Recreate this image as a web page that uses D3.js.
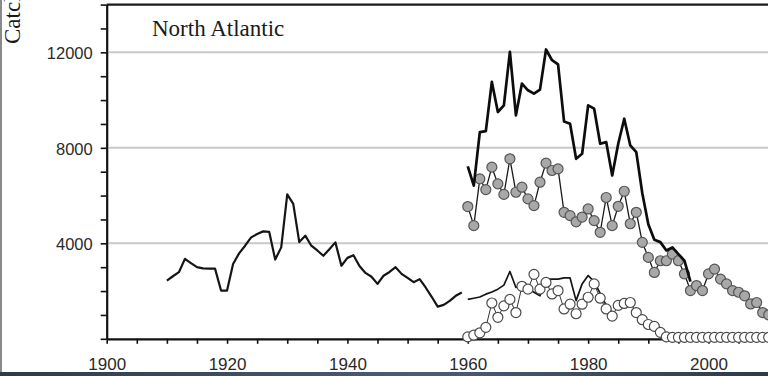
<!DOCTYPE html>
<html>
<head>
<meta charset="utf-8">
<script src="https://cdn.jsdelivr.net/npm/d3@7"></script>
<style>
  body { margin: 0; background: #fff; }
  svg { display: block; }
</style>
</head>
<body>
<svg id="chart" width="768" height="376"></svg>
<script>
// Labels and ticks
const regionLabel = "North Atlantic";
const yTitle = "Catches (t)";
const yMajorTicks = [4000, 8000, 12000];
const xMajorTicks = [1900, 1920, 1940, 1960, 1980, 2000];

// Early catch record, one value per year from 1910
const earlyStart = 1910;
const earlyCatch = [
  2440, 2620, 2790, 3350, 3170, 3000, 2950, 2940, 2940, 2020,
  2020, 3130, 3580, 3900, 4250, 4390, 4500, 4480, 3320, 3830,
  6050, 5650, 4050, 4320, 3900, 3700, 3480, 3750, 4040, 3060,
  3390, 3500, 3050, 2760, 2600, 2300, 2640, 2800, 3000, 2720,
  2550, 2370, 2500, 2150, 1760, 1350, 1420, 1590, 1800, 1940
];

// Modern series, one value per year from 1960
const modernStart = 1960;
const totalCatch = [
  7220, 6420, 8660, 8700, 10760, 9500, 9780, 12020, 9360, 10690,
  10410, 10270, 10440, 12120, 11670, 11500, 9100, 9010, 7540, 7750,
  9780, 9640, 8170, 8240, 6840, 8170, 9220, 8100, 7820, 6100,
  4800, 4150, 4050, 3700, 3830, 3550, 3270, 2400
];
const grayCatch = [
  5540, 4740, 6700, 6250, 7190, 6490, 6050, 7540, 6140, 6350,
  5860, 5580, 6560, 7360, 7050, 7120, 5300, 5160, 4900, 5100,
  5440, 4950, 4460, 5920, 4740, 5550, 6180, 4820, 5300, 4040,
  3410, 2780, 3270, 3270, 3550, 3270, 2720, 2020, 2230, 2020,
  2720, 2920, 2500, 2300, 2020, 1950, 1800, 1460, 1520, 1100,
  1000
];
const openCatch = [
  80, 150, 250, 480, 1500, 900, 1380, 1650, 1100, 2200,
  2080, 2700, 2080, 2360, 1880, 2020, 1250, 1450, 1050, 1450,
  1740, 2300, 1700, 1250, 950, 1400, 1480, 1520, 1100, 800,
  600, 520, 270, 80, 60, 60, 60, 60, 60, 60,
  60, 60, 60, 60, 60, 60, 60, 60, 60, 60,
  60
];
const lowerCatch = [
  1650, 1700, 1750, 1870, 1960, 2080, 2250, 2820, 2150, 2250,
  2100, 1950, 1800, 2500, 2500, 2500, 2550, 2550, 1600, 2300,
  2650, 2400, 1900, 1400, 1100
];

const toPoints = (start, values) => values.map((v, i) => ({ year: start + i, value: v }));

const svg = d3.select("#chart");
const W = 768;

const x = d3.scaleLinear().domain([1900, 2011]).range([106.7, 106.7 + 111 * 6.018]);
const y = d3.scaleLinear().domain([0, 14000]).range([338.8, 4.6]);

// Screen edges
svg.append("rect").attr("x", 0).attr("y", 0).attr("width", W).attr("height", 376).attr("fill", "#fff");

// Gridlines
svg.append("g").selectAll("line").data(yMajorTicks).join("line")
  .attr("x1", x(1900) + 2).attr("x2", W)
  .attr("y1", d => y(d)).attr("y2", d => y(d))
  .attr("stroke", "#c9c9c9").attr("stroke-width", 2);

// Top frame
svg.append("line")
  .attr("x1", x(1900)).attr("x2", W)
  .attr("y1", y(14000)).attr("y2", y(14000))
  .attr("stroke", "#1a1a1a").attr("stroke-width", 2.4);

// Y axis
const yAxis = d3.axisLeft(y)
  .tickValues(d3.range(0, 14001, 1000))
  .tickSize(6).tickSizeOuter(0).tickPadding(8)
  .tickFormat(d => yMajorTicks.includes(d) ? d : "");
const gy = svg.append("g").attr("transform", `translate(${x(1900)},0)`).call(yAxis);
gy.select(".domain").attr("stroke", "#111").attr("stroke-width", 2.2);
gy.selectAll(".tick line").attr("stroke", "#111").attr("stroke-width", 1.6);
gy.selectAll(".tick text")
  .attr("font-family", "'Liberation Sans', Arial, sans-serif")
  .attr("font-size", "16.5px").attr("fill", "#2a2a2a").attr("dy", "0.4em");

// X axis
const xAxis = d3.axisBottom(x)
  .tickValues(d3.range(1900, 2011, 5))
  .tickSize(5).tickSizeOuter(0).tickPadding(0)
  .tickFormat(d => xMajorTicks.includes(d) ? d : "");
const gx = svg.append("g").attr("transform", `translate(0,${y(0)})`).call(xAxis);
gx.select(".domain").attr("stroke", "#111").attr("stroke-width", 2.2);
gx.selectAll(".tick line").attr("stroke", "#111").attr("stroke-width", 1.6);
gx.selectAll(".tick text")
  .attr("font-family", "'Liberation Sans', Arial, sans-serif")
  .attr("font-size", "17px").attr("fill", "#2a2a2a")
  .attr("y", 31.7).attr("dy", 0);

const line = d3.line().x(d => x(d.year)).y(d => y(d.value));

// Early record and its later continuation
svg.append("path").datum(toPoints(earlyStart, earlyCatch))
  .attr("d", line).attr("fill", "none")
  .attr("stroke", "#151515").attr("stroke-width", 2.2).attr("stroke-linejoin", "round");
svg.append("path").datum(toPoints(modernStart, lowerCatch))
  .attr("d", line).attr("fill", "none")
  .attr("stroke", "#151515").attr("stroke-width", 1.7).attr("stroke-linejoin", "round");

// Open-circle series
const openPts = toPoints(modernStart, openCatch);
svg.append("path").datum(openPts)
  .attr("d", line).attr("fill", "none")
  .attr("stroke", "#333").attr("stroke-width", 1);
svg.append("g").selectAll("circle").data(openPts).join("circle")
  .attr("cx", d => x(d.year)).attr("cy", d => y(d.value)).attr("r", 5)
  .attr("fill", "#fff").attr("stroke", "#4a4a4a").attr("stroke-width", 1.2);

// Gray-circle series
const grayPts = toPoints(modernStart, grayCatch);
svg.append("path").datum(grayPts)
  .attr("d", line).attr("fill", "none")
  .attr("stroke", "#1a1a1a").attr("stroke-width", 1.3);
svg.append("g").selectAll("circle").data(grayPts).join("circle")
  .attr("cx", d => x(d.year)).attr("cy", d => y(d.value)).attr("r", 5)
  .attr("fill", "#a8a8a8").attr("stroke", "#555").attr("stroke-width", 1.2);

// Total catch
svg.append("path").datum(toPoints(modernStart, totalCatch))
  .attr("d", line).attr("fill", "none")
  .attr("stroke", "#0d0d0d").attr("stroke-width", 2.7).attr("stroke-linejoin", "round");

// Region label
svg.append("text").attr("x", 152).attr("y", 36)
  .attr("font-family", "'Liberation Serif', 'Times New Roman', serif")
  .attr("font-size", "23px").attr("fill", "#1a1a1a")
  .text(regionLabel);

// Y title
svg.append("text")
  .attr("transform", "translate(20,44) rotate(-90)")
  .attr("font-family", "'Liberation Serif', 'Times New Roman', serif")
  .attr("font-size", "23px").attr("fill", "#1a1a1a")
  .text(yTitle);

// Window edges
svg.append("rect").attr("x", 0).attr("y", 0).attr("width", 2).attr("height", 372).attr("fill", "#8a8a8a");
const grad = svg.append("defs").append("linearGradient").attr("id", "band");
grad.append("stop").attr("offset", "0%").attr("stop-color", "#2c3a4d");
grad.append("stop").attr("offset", "55%").attr("stop-color", "#4a5d78");
grad.append("stop").attr("offset", "100%").attr("stop-color", "#2c3a4d");
svg.append("rect").attr("x", 0).attr("y", 372).attr("width", W).attr("height", 4).attr("fill", "url(#band)");
</script>
</body>
</html>
